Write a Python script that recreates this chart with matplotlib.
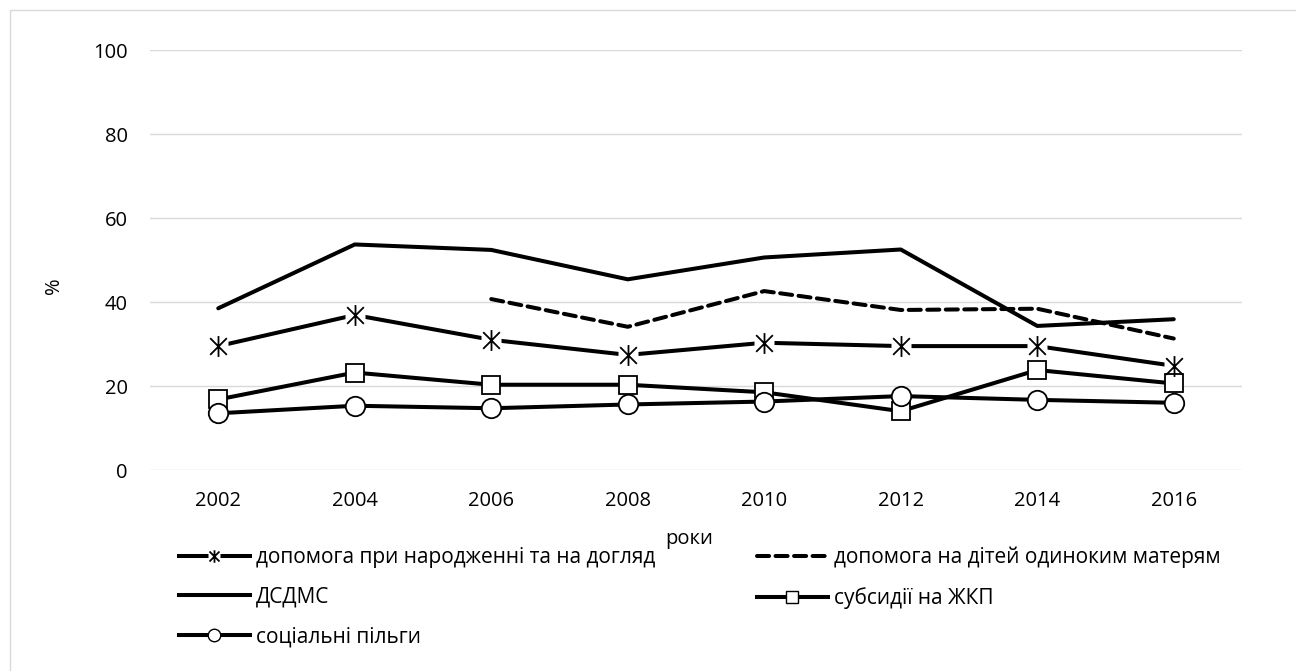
import matplotlib
matplotlib.use("Agg")
import matplotlib.pyplot as plt
from matplotlib.path import Path
from matplotlib.lines import Line2D
from matplotlib.patches import Rectangle

plt.rcParams['font.family'] = ['Open Sans', 'DejaVu Sans']

years = ['2002', '2004', '2006', '2008', '2010', '2012', '2014', '2016']
birth_care = [29.5, 36.9, 31.0, 27.4, 30.3, 29.5, 29.5, 24.8]
single_mothers = [None, None, 40.7, 34.1, 42.6, 38.1, 38.4, 31.3]
dsdms = [38.5, 53.7, 52.4, 45.4, 50.6, 52.5, 34.3, 35.9]
housing_subsidies = [16.8, 23.2, 20.3, 20.3, 18.5, 14.0, 23.8, 20.6]
social_benefits = [13.5, 15.3, 14.7, 15.6, 16.3, 17.6, 16.7, 16.0]

labels = ['допомога при народженні та на догляд',
          'допомога на дітей одиноким матерям',
          'ДСДМС',
          'субсидії на ЖКП',
          'соціальні пільги']

W, H = 1296, 671
fig = plt.figure(figsize=(W / 100, H / 100), dpi=100)

# outer chart frame
fig.patches.append(Rectangle((10 / W, -0.1), 1.2, 1 - 10 / H + 0.1,
                             transform=fig.transFigure, fill=False,
                             edgecolor='#d9d9d9', linewidth=1.0))

ax = fig.add_axes([150 / W, 1 - 470 / H, (1242 - 150) / W, (470 - 50) / H])
x = list(range(len(years)))

LW = 2.9
DASH = (0, (3.0, 1.6))
star = Path([(0, -1), (0, 1), (-0.8, -0.8), (0.8, 0.8), (-0.8, 0.8), (0.8, -0.8)],
            [Path.MOVETO, Path.LINETO, Path.MOVETO, Path.LINETO, Path.MOVETO, Path.LINETO])

# asterisk series: line, white backing, asterisk marker
l1, = ax.plot(x, birth_care, color='black', lw=LW, solid_capstyle='butt', zorder=3)
b1, = ax.plot(x, birth_care, ls='none', marker='s', ms=14, mfc='white', mec='none', zorder=4)
m1, = ax.plot(x, birth_care, ls='none', marker=star, ms=15, mfc='none', mec='black',
              mew=1.3, zorder=5)

xs = [i for i, v in zip(x, single_mothers) if v is not None]
vs = [v for v in single_mothers if v is not None]
l2, = ax.plot(xs, vs, color='black', lw=LW, ls=DASH, dash_capstyle='round', zorder=3)

l3, = ax.plot(x, dsdms, color='black', lw=LW, solid_capstyle='round', zorder=3)

l4, = ax.plot(x, housing_subsidies, color='black', lw=LW, marker='s', ms=13.5,
              mfc='white', mec='black', mew=1.3, zorder=4)
l5, = ax.plot(x, social_benefits, color='black', lw=LW, marker='o', ms=14,
              mfc='white', mec='black', mew=1.3, zorder=4)

ax.set_xlim(-0.5, len(years) - 0.5)
ax.set_ylim(0, 100)
ax.set_yticks(range(0, 101, 20))
ax.set_xticks(x)
ax.set_xticklabels(years)
ax.grid(axis='y', color='#d9d9d9', lw=1.0)
ax.set_axisbelow(True)
for s in ax.spines.values():
    s.set_visible(False)
ax.tick_params(length=0, labelsize=14.5, pad=15)
ax.tick_params(axis='y', pad=16)
ax.set_ylabel('%', fontsize=14.5)
ax.yaxis.set_label_coords(-(150 - 64) / 1092, (470 - 286) / 420)
ax.set_xlabel('роки', fontsize=14.5)
ax.xaxis.set_label_coords((689 - 150) / 1092, -(529 - 470) / 420)
ax.xaxis.label.set_va('top')

# legend handles (smaller markers, same styling)
h1 = (Line2D([], [], color='black', lw=LW),
      Line2D([], [], ls='none', marker='s', ms=9, mfc='white', mec='none'),
      Line2D([], [], ls='none', marker=star, ms=9, mfc='none', mec='black', mew=1.3))
h2 = Line2D([], [], color='black', lw=LW, ls=DASH, dash_capstyle='round')
h3 = Line2D([], [], color='black', lw=LW)
h4 = Line2D([], [], color='black', lw=LW, marker='s', ms=8.5, mfc='white', mec='black', mew=1.0)
h5 = Line2D([], [], color='black', lw=LW, marker='o', ms=9, mfc='white', mec='black', mew=1.0)

common = dict(frameon=False, fontsize=15, handlelength=3.4, handletextpad=0.3,
              labelspacing=0.9, numpoints=1, borderpad=0, borderaxespad=0,
              loc='upper left')
leg1 = fig.legend([h1, h3, h5], [labels[0], labels[2], labels[4]],
                  bbox_to_anchor=(179 / W, 1 - 547 / H), **common)
leg2 = fig.legend([h2, h4], [labels[1], labels[3]],
                  bbox_to_anchor=(757 / W, 1 - 547 / H), **common)

fig.savefig('out.png', dpi=100, facecolor='white')
